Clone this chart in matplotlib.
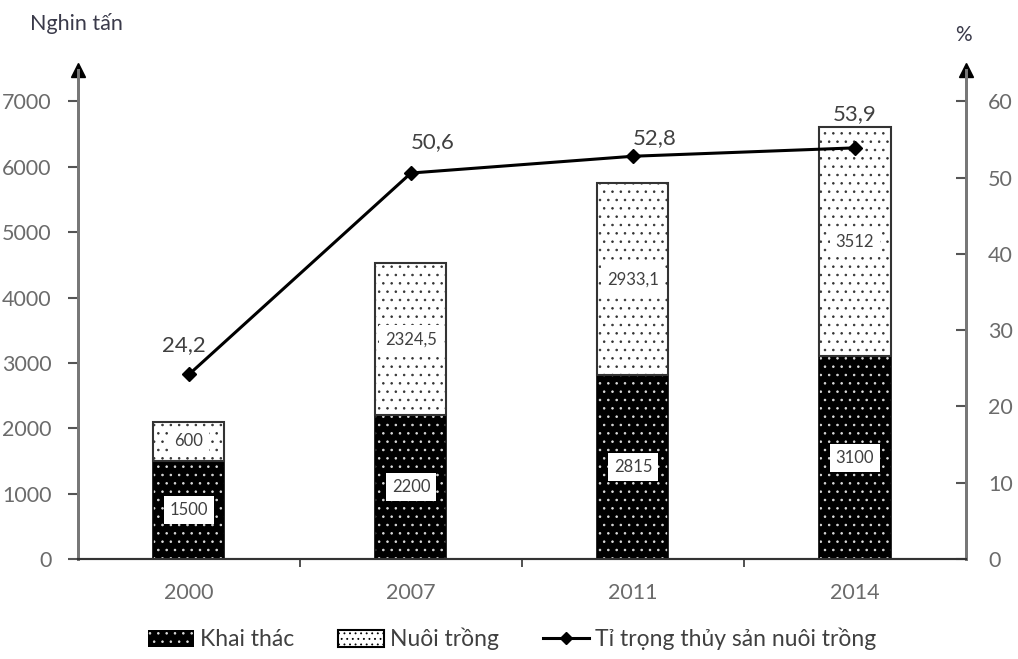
import numpy as np
import matplotlib
matplotlib.use("Agg")
import matplotlib.pyplot as plt
from matplotlib.patches import Patch
from matplotlib.lines import Line2D

years = ["2000", "2007", "2011", "2014"]
khai_thac = [1500, 2200, 2815, 3100]
nuoi_trong = [600, 2324.5, 2933.1, 3512]
ti_trong = [24.2, 50.6, 52.8, 53.9]
khai_labels = ["1500", "2200", "2815", "3100"]
nuoi_labels = ["600", "2324,5", "2933,1", "3512"]
pct_labels = ["24,2", "50,6", "52,8", "53,9"]
pct_offsets = [(-4, 21), (16, 22), (16, 13), (0, 24)]

plt.rcParams['font.family'] = ['Lato', 'DejaVu Sans']
plt.rcParams['hatch.linewidth'] = 0.6

tick_gray = "#6b6b6b"
text_gray = "#404040"


def plot():
    fig = plt.figure(figsize=(10.18, 6.59), dpi=100)
    ax = fig.add_axes([0.0766, 0.1517, 0.8723, 0.742])
    ax2 = ax.twinx()

    x = np.arange(len(years))
    w = 0.32
    kt = np.array(khai_thac)
    nt = np.array(nuoi_trong)

    # khai thac: black with white dots
    ax.bar(x, kt, w, color="black", edgecolor="#dddddd", hatch="..", linewidth=0, zorder=2)
    ax.bar(x, kt, w, fill=False, edgecolor="black", linewidth=1.2, zorder=3)
    # nuoi trong: white with black dots
    ax.bar(x, nt, w, bottom=kt, color="white", edgecolor="#333333", hatch="..", linewidth=0, zorder=2)
    ax.bar(x, nt, w, bottom=kt, fill=False, edgecolor="#333333", linewidth=1.5, zorder=3)

    box = dict(boxstyle="square,pad=0.35", facecolor="white", edgecolor="none")
    for i in range(len(years)):
        ax.text(x[i], kt[i] / 2, khai_labels[i], ha="center", va="center",
                fontsize=12, color=text_gray, bbox=box, zorder=5)
        ax.text(x[i], kt[i] + nt[i] / 2, nuoi_labels[i], ha="center", va="center",
                fontsize=12, color=text_gray, bbox=box, zorder=5)

    ax.set_xlim(-0.5, 3.5)
    ax.set_ylim(0, 7480)
    ax.set_yticks(np.arange(0, 7001, 1000))
    ax.set_yticklabels([str(v) for v in range(0, 7001, 1000)])
    ax.set_xticks(x)
    ax.set_xticklabels(years)
    ax.set_xticks([0.5, 1.5, 2.5], minor=True)
    ax.tick_params(axis="x", which="major", length=0, pad=17, labelsize=15.5, labelcolor=tick_gray)
    ax.tick_params(axis="x", which="minor", length=6, width=1.2, color="#333333", direction="out")
    ax.tick_params(axis="y", length=7, width=1.5, color="#555555", direction="out", pad=12,
                   labelsize=15.5, labelcolor=tick_gray)

    ax2.plot(x, ti_trong, color="black", linewidth=2.2, marker="D", markersize=7, zorder=6)
    for i in range(len(years)):
        ax2.annotate(pct_labels[i], (x[i], ti_trong[i]), xytext=pct_offsets[i],
                     textcoords="offset points", ha="center", va="center",
                     fontsize=16, color=text_gray)
    ax2.set_ylim(0, 64.1)
    ax2.set_yticks(np.arange(0, 61, 10))
    ax2.tick_params(axis="y", length=7, width=1.5, color="#555555", direction="in", pad=16,
                    labelsize=15.5, labelcolor=tick_gray)

    for a in (ax, ax2):
        a.spines["top"].set_visible(False)
        a.spines["left"].set_color("#777777")
        a.spines["left"].set_linewidth(2)
        a.spines["right"].set_color("#777777")
        a.spines["right"].set_linewidth(2)
        a.spines["bottom"].set_color("#333333")
        a.spines["bottom"].set_linewidth(1.5)
    ax2.set_zorder(ax.get_zorder() + 1)
    ax2.patch.set_visible(False)

    # arrow heads on the axes
    ax.plot([0], [1], marker="^", markersize=10, color="black", transform=ax.transAxes, clip_on=False)
    ax.plot([1], [1], marker="^", markersize=10, color="black", transform=ax.transAxes, clip_on=False)

    fig.text(30 / 1018, 1 - 23 / 659, "Nghin tấn", ha="left", va="center", fontsize=15.5, color="#3a3a4a")
    fig.text(963 / 1018, 1 - 35 / 659, "%", ha="center", va="center", fontsize=15, color="#3a3a4a")

    handles = [
        Patch(facecolor="black", edgecolor="#dddddd", hatch="..", linewidth=0),
        Patch(facecolor="white", edgecolor="black", hatch="...", linewidth=1.5),
        Line2D([0], [0], color="black", linewidth=2.2, marker="D", markersize=6),
    ]
    names = ["Khai thác", "Nuôi trồng", "Tỉ trọng thủy sản nuôi trồng"]
    fig.legend(handles, names, loc="center", bbox_to_anchor=(0.503, 0.03), ncol=3,
               frameon=False, fontsize=16.5, handlelength=2.0, handleheight=0.75,
               handletextpad=0.28, columnspacing=1.9, labelcolor=text_gray)

    fig.savefig("out.png", dpi=100)


def main():
    plot()


if __name__ == "__main__":
    main()
